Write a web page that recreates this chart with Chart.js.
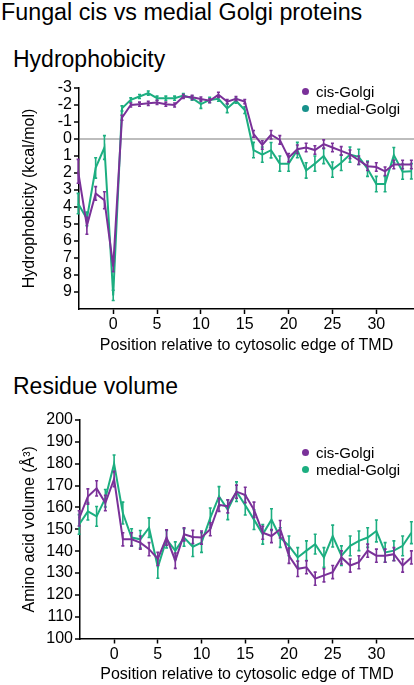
<!DOCTYPE html>
<html>
<head>
<meta charset="utf-8">
<script src="https://cdn.jsdelivr.net/npm/chart.js@4.4.0/dist/chart.umd.min.js"></script>
<style>
body { margin: 0; background: #fff; font-family: "Liberation Sans", Arial, sans-serif; color: #000; }
#page { position: relative; width: 414px; height: 685px; overflow: hidden; }
.t { position: absolute; white-space: nowrap; line-height: 1; }
.leg { position: absolute; font-size: 15px; line-height: 17px; white-space: nowrap; }
.dot { display: inline-block; width: 7px; height: 7px; border-radius: 50%; margin-right: 7px; vertical-align: 2px; }
canvas { position: absolute; left: 0; }
</style>
</head>
<body>
<div id="page">
  <div class="t" style="left:1px;top:1px;font-size:23.3px;">Fungal cis vs medial Golgi proteins</div>
  <div class="t" style="left:13px;top:48px;font-size:23px;">Hydrophobicity</div>
  <div class="t" style="left:13px;top:375px;font-size:23px;">Residue volume</div>

  <canvas id="hydro" width="414" height="285" style="top:70px"></canvas>
  <canvas id="volume" width="414" height="284" style="top:400px"></canvas>

  <div class="leg" style="left:302px;top:83px;"><span class="dot" style="background:#7a3199"></span>cis-Golgi</div>
  <div class="leg" style="left:302px;top:100px;"><span class="dot" style="background:#17918b"></span>medial-Golgi</div>
  <div class="leg" style="left:302px;top:444px;"><span class="dot" style="background:#7a3199"></span>cis-Golgi</div>
  <div class="leg" style="left:302px;top:461px;"><span class="dot" style="background:#1cae80"></span>medial-Golgi</div>
</div>

<script>
// Positionen relativ zur cytosolischen TMD-Kante
const positions = [-4, -3, -2, -1, 0, 1, 2, 3, 4, 5, 6, 7, 8, 9, 10, 11, 12, 13, 14, 15, 16, 17, 18, 19, 20, 21, 22, 23, 24, 25, 26, 27, 28, 29, 30, 31, 32, 33, 34];

// Hydrophobizitaet (kcal/mol)
const hydroCis = [1.9, 5.1, 3.2, 3.6, 7.5, -1.25, -2.0, -2.05, -2.1, -2.15, -2.05, -2.0, -2.5, -2.45, -2.35, -2.25, -2.6, -2.2, -2.37, -2.2, -0.3, 0.35, -0.25, 0.05, 1.1, 0.6, 0.5, 0.65, 0.3, 0.5, 0.7, 0.9, 1.25, 1.6, 1.65, 1.9, 1.5, 1.5, 1.5];
const hydroCisErr = [0.7, 0.5, 0.4, 0.5, 0.3, 0.15, 0.12, 0.12, 0.12, 0.12, 0.12, 0.12, 0.12, 0.12, 0.12, 0.12, 0.15, 0.12, 0.12, 0.12, 0.2, 0.25, 0.25, 0.25, 0.25, 0.25, 0.25, 0.25, 0.25, 0.25, 0.25, 0.25, 0.25, 0.25, 0.25, 0.25, 0.25, 0.25, 0.25];
const hydroMedial = [3.8, 4.7, 1.7, 0.5, 9.2, -1.8, -2.3, -2.5, -2.7, -2.4, -2.4, -2.4, -2.55, -2.4, -2.05, -2.3, -2.37, -1.8, -2.25, -1.7, 0.65, 0.92, 0.66, 1.45, 1.45, 0.65, 1.85, 1.45, 1.0, 1.8, 1.4, 0.92, 1.05, 1.75, 2.65, 2.65, 0.95, 1.92, 1.9];
const hydroMedialErr = [0.6, 0.4, 0.6, 0.7, 0.3, 0.15, 0.12, 0.12, 0.12, 0.12, 0.12, 0.12, 0.12, 0.12, 0.25, 0.15, 0.15, 0.25, 0.15, 0.2, 0.45, 0.45, 0.45, 0.45, 0.45, 0.45, 0.45, 0.45, 0.45, 0.45, 0.45, 0.45, 0.45, 0.45, 0.45, 0.45, 0.45, 0.45, 0.45];

// Aminosaeurevolumen (A^3)
const volCis = [155, 165, 168.7, 162, 173, 145.4, 145.4, 143.9, 140.9, 136.4, 146.2, 135.6, 147.7, 146.5, 146.2, 150, 161.2, 160.5, 167.2, 165.7, 158.9, 148.4, 146.9, 150, 137.9, 131.9, 132.6, 127.4, 128.9, 130.4, 137.1, 133.4, 134.9, 140.2, 137.9, 137.9, 138.6, 133.4, 137.1];
const volCisErr = [3.5, 3.5, 3.5, 3.5, 3.5, 3, 3, 3, 3, 3, 3.5, 3.5, 3, 3, 3, 3, 3, 3, 3, 3.5, 3.5, 3, 3, 4, 3.5, 3.5, 3, 3, 3, 3, 3, 3, 3, 3, 3, 3, 3, 3, 3];
const volMedial = [152.2, 158.2, 155.9, 164.2, 180, 157.4, 146.2, 145.4, 150.7, 132.6, 145.4, 140.2, 146.2, 142, 143.9, 155.2, 165, 158.9, 167.2, 161, 154.4, 147.7, 154.4, 146.2, 142.4, 137.1, 140.2, 143.2, 137.1, 146.9, 137.9, 142.4, 144.7, 146.2, 149.2, 139.4, 140.2, 142.4, 148.4];
const volMedialErr = [4.5, 4, 4.5, 4, 4, 5, 4, 4, 4.5, 5, 4, 4, 4, 4.5, 4.5, 4.5, 4.5, 4.5, 4.5, 4.5, 4.5, 4.5, 5, 4.5, 4.5, 4.5, 4.5, 4.5, 4.5, 5, 4.5, 4.5, 4.5, 4.5, 5, 4.5, 4.5, 4.5, 5];

// Achsenbeschriftungen
const xTicks = [0, 5, 10, 15, 20, 25, 30];
const hydroTicks = [-3, -2, -1, 0, 1, 2, 3, 4, 5, 6, 7, 8, 9];
const volTicks = [100, 110, 120, 130, 140, 150, 160, 170, 180, 190, 200];

const purple = '#7a3199';
const green = '#1cae80';
const family = '"Liberation Sans", Arial, sans-serif';

// Fehlerbalken ueber die Skalen zeichnen
const errorBars = {
    id: 'errorBars',
    afterDatasetDraw(chart, args) {
        const ds = chart.data.datasets[args.index];
        if (!ds.errors) return;
        const ctx = chart.ctx;
        const xs = chart.scales.x, ys = chart.scales.y;
        ctx.save();
        ctx.strokeStyle = ds.borderColor;
        ctx.lineWidth = 1.6;
        ds.data.forEach((pt, i) => {
            const px = xs.getPixelForValue(pt.x);
            const y1 = ys.getPixelForValue(pt.y - ds.errors[i]);
            const y2 = ys.getPixelForValue(pt.y + ds.errors[i]);
            ctx.beginPath();
            ctx.moveTo(px, y1); ctx.lineTo(px, y2);
            ctx.moveTo(px - 1.5, y1); ctx.lineTo(px + 1.5, y1);
            ctx.moveTo(px - 1.5, y2); ctx.lineTo(px + 1.5, y2);
            ctx.stroke();
        });
        ctx.restore();
    }
};

function series(values, errors, color) {
    return {
        data: positions.map((p, i) => ({ x: p, y: values[i] })),
        errors: errors,
        borderColor: color,
        borderWidth: 2,
        pointRadius: 0,
        tension: 0,
        fill: false,
        clip: false
    };
}

function makeChart(id, cisVals, cisErr, medVals, medErr, y) {
    new Chart(document.getElementById(id), {
        type: 'line',
        data: {
            datasets: [series(cisVals, cisErr, purple), series(medVals, medErr, green)]
        },
        plugins: [errorBars],
        options: {
            responsive: false,
            animation: false,
            layout: { padding: { top: y.padTop, left: 0, right: 0, bottom: 0 } },
            plugins: { legend: { display: false }, tooltip: { enabled: false } },
            scales: {
                x: {
                    type: 'linear',
                    min: -3.9,
                    max: 34.3,
                    afterBuildTicks: s => { s.ticks = xTicks.map(v => ({ value: v })); },
                    afterFit: s => { s.height = y.xHeight; },
                    grid: { drawOnChartArea: false, tickColor: '#000', tickLength: 5, tickWidth: 1.5 },
                    border: { color: '#000', width: 1.5 },
                    ticks: { color: '#000', font: { size: 16, family: family }, padding: 1, maxRotation: 0, autoSkip: false },
                    title: { display: true, text: 'Position relative to cytosolic edge of TMD', color: '#000', font: { size: 16, family: family }, padding: 0 }
                },
                y: {
                    type: 'linear',
                    min: y.min,
                    max: y.max,
                    reverse: y.reverse,
                    afterBuildTicks: s => { s.ticks = y.ticks.map(v => ({ value: v })); },
                    afterFit: s => { s.width = y.width; },
                    grid: {
                        color: c => (y.zeroLine && c.tick && c.tick.value === 0) ? '#bdbdbd' : 'rgba(0,0,0,0)',
                        lineWidth: 2,
                        tickColor: '#000',
                        tickLength: 5,
                        tickWidth: 1.5
                    },
                    border: { color: '#000', width: 1.5 },
                    ticks: { color: '#000', font: { size: 16, family: family }, padding: 2, autoSkip: false },
                    title: { display: true, text: y.title, color: '#000', font: { size: 16, family: family }, padding: { top: 20, bottom: 0 } }
                }
            }
        }
    });
}

makeChart('hydro', hydroCis, hydroCisErr, hydroMedial, hydroMedialErr, {
    min: -3, max: 10, reverse: true, ticks: hydroTicks, width: 79, padTop: 18, xHeight: 46,
    zeroLine: true, title: 'Hydrophobicity (kcal/mol)'
});

makeChart('volume', volCis, volCisErr, volMedial, volMedialErr, {
    min: 100, max: 200, reverse: false, ticks: volTicks, width: 80, padTop: 20, xHeight: 45.5,
    zeroLine: false, title: 'Amino acid volume (Å³)'
});
</script>
</body>
</html>
